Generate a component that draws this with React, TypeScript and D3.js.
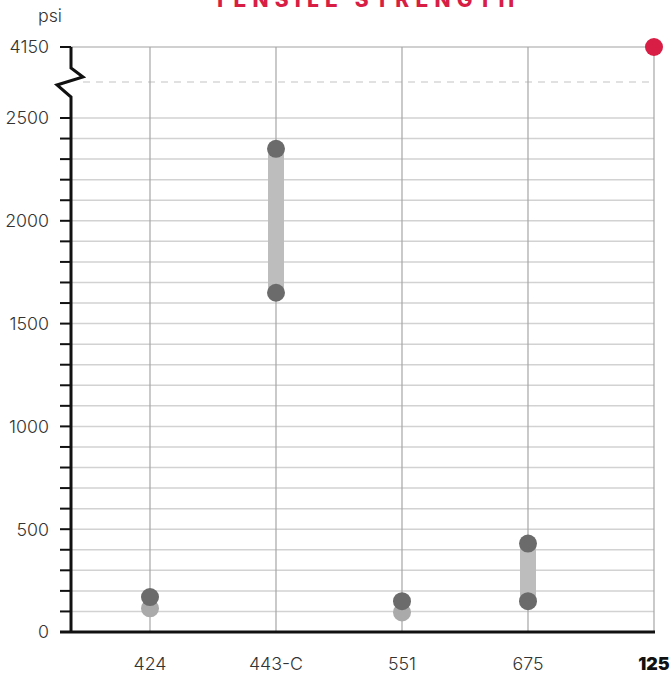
import React from "react";
import * as d3 from "d3";

const categories = ["424", "443-C", "551", "675", "125"];
const rangeLow = [170, 1650, 150, 150, null];
const rangeHigh = [170, 2350, 150, 430, null];
const lightValues = [115, null, 95, null, null];
const highlightValues = [null, null, null, null, 4150];
const yLabels = [0, 500, 1000, 1500, 2000, 2500];
const topValue = 4150;
const title = "TENSILE STRENGTH";
const unit = "psi";

const W = 672;
const H = 677;

export default function App() {
  const y = d3.scaleLinear().domain([0, 2500, topValue]).range([632, 118, 47]);
  const x = d3.scalePoint<string>().domain(categories).range([150, 654]).padding(0);
  const axisX = 71;
  const right = x(categories[categories.length - 1])!;
  const minorTicks = d3.range(0, 2501, 100);
  const breakY = 82;
  const font = "Inter, Roboto, sans-serif";
  const fs = 17.8;

  const zig = `M${axisX},${y(topValue)} L${axisX},${y(topValue) + 21} L${axisX + 12},${breakY - 5} L${axisX - 14},${breakY + 3} L${axisX},${breakY + 15} L${axisX},${y(0)}`;

  return (
    <svg width={W} height={H} style={{ position: "absolute", left: 0, top: 0 }} fontFamily={font}>
      <rect width={W} height={H} fill="#fff" />
      <text x={213} y={7} fill="#d81e45" fontSize={21} fontWeight={800} letterSpacing={6.2} fontFamily="Inter, Roboto, sans-serif">
        {title}
      </text>
      {/* horizontal gridlines */}
      {minorTicks.slice(1).map((v) => (
        <line key={"g" + v} x1={axisX} x2={right} y1={y(v)} y2={y(v)} stroke="#d2d2d2" strokeWidth={1.5} />
      ))}
      <line x1={axisX} x2={right} y1={y(topValue)} y2={y(topValue)} stroke="#d0d0d0" strokeWidth={2.2} />
      <line x1={axisX + 12} x2={right} y1={breakY} y2={breakY} stroke="#c4c4c4" strokeWidth={1.2} strokeDasharray="7,6" />
      {/* vertical gridlines */}
      {categories.map((c) => (
        <line key={"v" + c} x1={x(c)} x2={x(c)} y1={y(topValue)} y2={y(0)} stroke="#a6a6a6" strokeWidth={1.2} />
      ))}
      {/* ticks */}
      {minorTicks.map((v) => (
        <line key={"t" + v} x1={axisX - 11} x2={axisX} y1={y(v)} y2={y(v)} stroke="#111" strokeWidth={2} />
      ))}
      <line x1={axisX - 11} x2={axisX} y1={y(topValue)} y2={y(topValue)} stroke="#111" strokeWidth={2} />
      {/* axes */}
      <path d={zig} fill="none" stroke="#111" strokeWidth={3} />
      <line x1={axisX - 11} x2={right + 1} y1={y(0)} y2={y(0)} stroke="#111" strokeWidth={3} />
      {/* y labels */}
      {yLabels.map((v) => (
        <text key={"l" + v} x={49} y={y(v)} dy="0.36em" textAnchor="end" fontSize={fs} fill="#333" fontWeight={300}>
          {v}
        </text>
      ))}
      <text x={49} y={y(topValue)} dy="0.36em" textAnchor="end" fontSize={fs} fill="#333" fontWeight={300}>
        {topValue}
      </text>
      <text x={50} y={22} textAnchor="middle" fontSize={fs} fill="#333" fontWeight={300}>
        {unit}
      </text>
      {/* x labels */}
      {categories.map((c, i) => (
        <text
          key={"x" + c}
          x={x(c)}
          y={670}
          textAnchor="middle"
          fontSize={fs}
          fill={i === categories.length - 1 ? "#111" : "#333"}
          fontWeight={i === categories.length - 1 ? 900 : 300}
        >
          {c}
        </text>
      ))}
      {/* bars */}
      {categories.map((c, i) =>
        rangeLow[i] != null && rangeHigh[i]! > rangeLow[i]! ? (
          <line key={"b" + c} x1={x(c)} x2={x(c)} y1={y(rangeLow[i]!)} y2={y(rangeHigh[i]!)} stroke="#bdbdbd" strokeWidth={16} />
        ) : null
      )}
      {/* light dots */}
      {categories.map((c, i) =>
        lightValues[i] != null ? <circle key={"lt" + c} cx={x(c)} cy={y(lightValues[i]!)} r={9} fill="#aaaaaa" /> : null
      )}
      {/* dark dots */}
      {categories.map((c, i) =>
        rangeLow[i] != null ? (
          <g key={"d" + c}>
            <circle cx={x(c)} cy={y(rangeLow[i]!)} r={9} fill="#6b6b6b" />
            {rangeHigh[i] !== rangeLow[i] ? <circle cx={x(c)} cy={y(rangeHigh[i]!)} r={9} fill="#6b6b6b" /> : null}
          </g>
        ) : null
      )}
      {/* highlight */}
      {categories.map((c, i) =>
        highlightValues[i] != null ? <circle key={"h" + c} cx={x(c)} cy={y(highlightValues[i]!)} r={9} fill="#d81e45" /> : null
      )}
    </svg>
  );
}
